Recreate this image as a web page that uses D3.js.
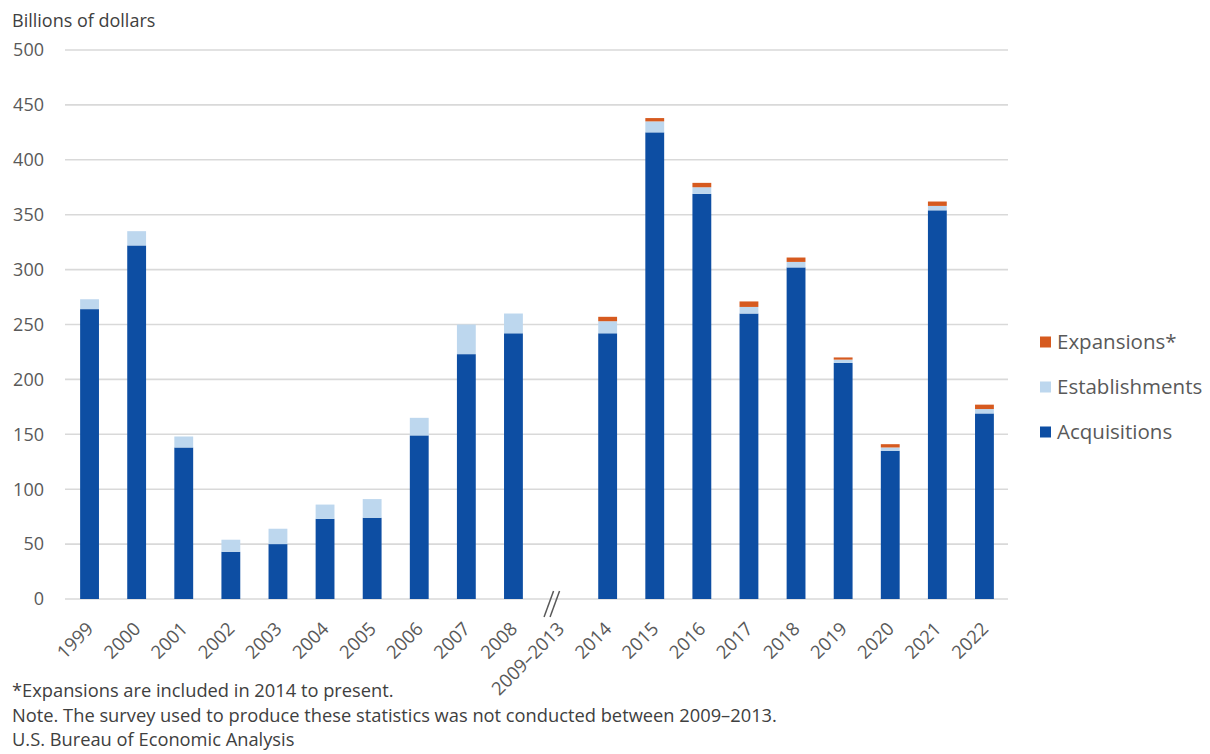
<!DOCTYPE html>
<html>
<head>
<meta charset="utf-8">
<script src="https://cdn.jsdelivr.net/npm/d3@7"></script>
<style>
  body { margin: 0; background: #fff; }
  svg { display: block; font-family: "Open Sans", "Noto Sans", sans-serif; }
</style>
</head>
<body>
<svg id="chart" width="1210" height="754"></svg>
<script>
const categories = ["1999","2000","2001","2002","2003","2004","2005","2006","2007","2008","2009–2013",
  "2014","2015","2016","2017","2018","2019","2020","2021","2022"];
const acquisitions   = [264, 322, 138, 43, 50, 73, 74, 149, 223, 242, null, 242, 425, 369, 260, 302, 215, 135, 354, 169];
const establishments = [9, 13, 10, 11, 14, 13, 17, 16, 27, 18, null, 11, 10, 6, 6, 5, 3, 3, 4, 4];
const expansions     = [0, 0, 0, 0, 0, 0, 0, 0, 0, 0, null, 4, 3, 4, 5, 4, 2, 3, 4, 4];
const yTicks = [0, 50, 100, 150, 200, 250, 300, 350, 400, 450, 500];
const seriesNames = ["Acquisitions", "Establishments", "Expansions"];
const legendLabels = ["Expansions*", "Establishments", "Acquisitions"];
const colors = { Acquisitions: "#0d4ea3", Establishments: "#bdd7ee", Expansions: "#d65a1f" };
const footnotes = [
  "*Expansions are included in 2014 to present.",
  "Note. The survey used to produce these statistics was not conducted between 2009–2013.",
  "U.S. Bureau of Economic Analysis"
];

const svg = d3.select("#chart");
const x = d3.scaleBand().domain(categories).range([66, 1008]).paddingInner(0.6).paddingOuter(0.3);
const y = d3.scaleLinear().domain([0, 500]).range([599, 50]);

// gridlines
svg.append("g").selectAll("line").data(yTicks).join("line")
  .attr("x1", 65).attr("x2", 1008)
  .attr("y1", d => y(d)).attr("y2", d => y(d))
  .attr("stroke", "#d9d9d9").attr("stroke-width", 1.6);

// y tick labels
svg.append("g").selectAll("text").data(yTicks).join("text")
  .attr("x", 44).attr("y", d => y(d)).attr("dy", "0.35em")
  .attr("text-anchor", "end").attr("font-size", 18).attr("fill", "#595959")
  .text(d => d);

// y title
svg.append("text").attr("x", 12).attr("y", 27).attr("font-size", 18).attr("fill", "#404040")
  .text("Billions of dollars");

// stacked bars
const table = categories.map((c, i) => ({
  cat: c,
  Acquisitions: acquisitions[i] || 0,
  Establishments: establishments[i] || 0,
  Expansions: expansions[i] || 0
}));
const stacked = d3.stack().keys(seriesNames)(table);
svg.append("g").selectAll("g").data(stacked).join("g")
  .attr("fill", d => colors[d.key])
  .selectAll("rect").data(d => d.filter(p => p[1] > p[0])).join("rect")
  .attr("x", d => x(d.data.cat)).attr("width", x.bandwidth())
  .attr("y", d => y(d[1])).attr("height", d => y(d[0]) - y(d[1]));

// break mark
const bc = x("2009–2013") + x.bandwidth() / 2;
[-16.5, -10.5].forEach(off => {
  svg.append("line")
    .attr("x1", bc + off).attr("y1", y(0) + 18)
    .attr("x2", bc + off + 9.5).attr("y2", y(0) - 8)
    .attr("stroke", "#595959").attr("stroke-width", 1.5);
});

// x labels
svg.append("g").selectAll("text").data(categories).join("text")
  .attr("transform", d => `translate(${x(d) + x.bandwidth() / 2 + 5},${y(0) + 31}) rotate(-45)`)
  .attr("text-anchor", "end").attr("font-size", 18.5).attr("fill", "#595959")
  .text(d => d);

// legend
const lg = svg.append("g");
legendLabels.forEach((lab, i) => {
  const key = seriesNames[2 - i];
  const ly = 342 + i * 45;
  lg.append("rect").attr("x", 1040).attr("y", ly - 5.5).attr("width", 11).attr("height", 11)
    .attr("fill", colors[key]);
  lg.append("text").attr("x", 1057).attr("y", ly).attr("dy", "0.35em")
    .attr("font-size", 20.5).attr("fill", "#595959").text(lab);
});

// footnotes
svg.append("g").selectAll("text").data(footnotes).join("text")
  .attr("x", 12).attr("y", (d, i) => 697 + i * 24.5)
  .attr("font-size", 18.3).attr("fill", "#404040").text(d => d);
</script>
</body>
</html>
